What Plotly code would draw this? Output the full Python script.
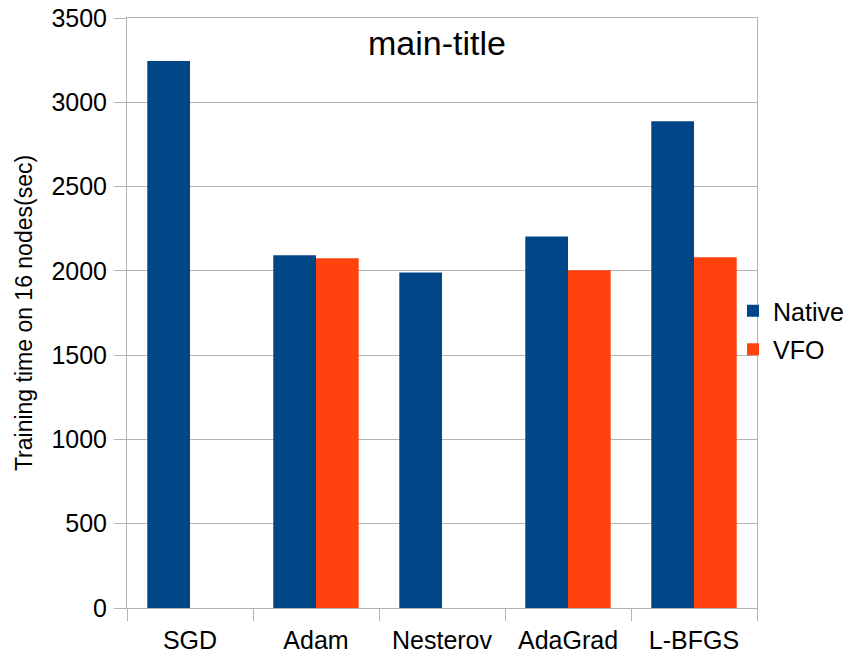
import plotly.graph_objects as go

categories = ["SGD", "Adam", "Nesterov", "AdaGrad", "L-BFGS"]
native = [3245, 2092, 1990, 2204, 2887]
vfo = [None, 2075, None, 2003, 2080]
y_ticks = [0, 500, 1000, 1500, 2000, 2500, 3000, 3500]

FONT = "Liberation Sans, Arial, sans-serif"
GRID = "#b3b3b3"

fig = go.Figure()
fig.add_trace(go.Bar(name="Native", x=categories, y=native, marker_color="#004586",
                     marker_line_width=0, legendgroup="a"))
fig.add_trace(go.Bar(name="VFO", x=categories, y=vfo, marker_color="#ff420e",
                     marker_line_width=0, legendgroup="b"))

# the page body adds an 8px offset; margins compensate for it
fig.update_layout(
    width=854, height=655,
    margin=dict(l=119, r=105, t=10, b=55, autoexpand=False),
    paper_bgcolor="white", plot_bgcolor="white",
    font=dict(family=FONT, size=25, color="black"),
    barmode="group", bargap=0.322, bargroupgap=0,
    title=dict(text="main-title", x=429/854, xanchor="center", xref="container",
               y=1-35/655, yanchor="middle", yref="container", automargin=False,
               font=dict(size=34, family=FONT, color="black")),
    legend=dict(x=(733-127)/630, xanchor="left", y=(608-330)/590, yanchor="middle",
                font=dict(size=25, family=FONT), bgcolor="rgba(0,0,0,0)",
                traceorder="grouped", tracegroupgap=3),
    showlegend=True,
)
fig.update_xaxes(
    showline=True, linecolor=GRID, linewidth=1, mirror=True,
    ticks="outside", ticklen=12, tickcolor=GRID, tickson="boundaries",
    showgrid=False, ticklabelstandoff=10, automargin=False,
    ticklabeloverflow="allow",
    tickfont=dict(size=25, family=FONT),
)
fig.update_yaxes(
    range=[0, 3500], tickvals=y_ticks,
    showline=True, linecolor=GRID, linewidth=1, mirror=True,
    ticks="outside", ticklen=12, tickcolor=GRID,
    showgrid=True, gridcolor=GRID, gridwidth=1, zeroline=False,
    ticklabelstandoff=2, automargin=False,
    ticklabeloverflow="allow",
    tickfont=dict(size=25, family=FONT),
    title=dict(text="Training time on 16 nodes(sec)", font=dict(size=23, family=FONT), standoff=12),
)

fig.write_html("out.html")
